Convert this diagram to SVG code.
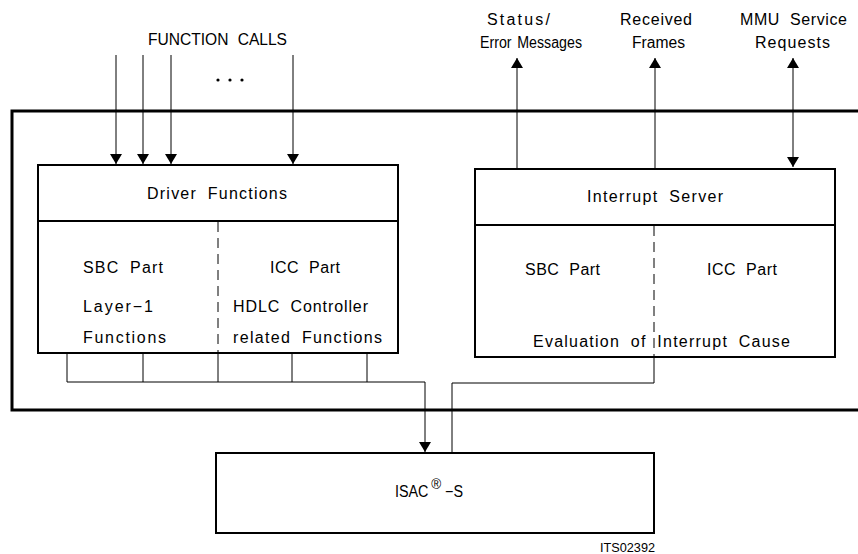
<svg xmlns="http://www.w3.org/2000/svg" width="858" height="554" viewBox="0 0 858 554">
<defs>
<marker id="ah" viewBox="0 0 10 12" refX="10" refY="6" markerWidth="10" markerHeight="12" markerUnits="userSpaceOnUse" orient="auto">
<path d="M0,0 L10,6 L0,12 Z" fill="#000"/>
</marker>
<marker id="ahs" viewBox="0 0 10 12" refX="10" refY="6" markerWidth="10" markerHeight="12" markerUnits="userSpaceOnUse" orient="auto-start-reverse">
<path d="M0,0 L10,6 L0,12 Z" fill="#000"/>
</marker>
</defs>
<style>
text{font-family:"Liberation Sans","DejaVu Sans",sans-serif;font-size:16px;fill:#000;word-spacing:5px}
.c{text-anchor:middle}
.box{fill:#fff;stroke:#000;stroke-width:2}
.sep{stroke:#000;stroke-width:2}
.ln{fill:none;stroke:#000;stroke-width:1}
.dash{fill:none;stroke:#000;stroke-width:1;stroke-dasharray:10,6}
.arr{fill:none;stroke:#000;stroke-width:1;marker-end:url(#ah)}
.frame{fill:none;stroke:#000;stroke-width:3}
</style>
<rect width="858" height="554" fill="#fff"/>

<g id="frame">
<path class="frame" d="M858,111 L12,111 L12,410 L858,410"/>
</g>

<g id="labels-top">
<text x="148" y="45" textLength="139" lengthAdjust="spacingAndGlyphs">FUNCTION CALLS</text>
<circle cx="218" cy="80" r="1.6"/>
<circle cx="230" cy="80" r="1.6"/>
<circle cx="242" cy="80" r="1.6"/>
<text x="487" y="25" textLength="63" lengthAdjust="spacing">Status/</text>
<text x="480" y="48" textLength="102" lengthAdjust="spacingAndGlyphs" style="word-spacing:2px">Error Messages</text>
<text x="620" y="25" textLength="72" lengthAdjust="spacing">Received</text>
<text x="632" y="48" textLength="53" lengthAdjust="spacingAndGlyphs">Frames</text>
<text x="740" y="25" textLength="107" lengthAdjust="spacing">MMU Service</text>
<text x="755" y="48" textLength="75" lengthAdjust="spacing">Requests</text>
</g>

<g id="driver">
<rect class="box" x="38" y="165" width="360" height="188"/>
<line class="sep" x1="38" y1="221" x2="398" y2="221"/>
<line class="dash" x1="218" y1="222" x2="218" y2="353"/>
<text x="147" y="199" textLength="140" lengthAdjust="spacing">Driver Functions</text>
<text x="83" y="273" textLength="80" lengthAdjust="spacing">SBC Part</text>
<text x="270" y="273" textLength="70" lengthAdjust="spacing">ICC Part</text>
<text x="83" y="312" textLength="70" lengthAdjust="spacing">Layer−1</text>
<text x="83" y="343" textLength="83" lengthAdjust="spacing">Functions</text>
<text x="233" y="312" textLength="135" lengthAdjust="spacing">HDLC Controller</text>
<text x="233" y="343" textLength="149" lengthAdjust="spacing">related Functions</text>
</g>

<g id="interrupt">
<rect class="box" x="475" y="169" width="360" height="188"/>
<line class="sep" x1="475" y1="225" x2="835" y2="225"/>
<line class="dash" x1="654" y1="226" x2="654" y2="357"/>
<text x="587" y="202" textLength="136" lengthAdjust="spacing">Interrupt Server</text>
<text x="525" y="275" textLength="75" lengthAdjust="spacing">SBC Part</text>
<text x="707" y="275" textLength="70" lengthAdjust="spacing">ICC Part</text>
<text x="533" y="347" textLength="257" lengthAdjust="spacing">Evaluation of Interrupt Cause</text>
</g>

<g id="isac">
<rect class="box" x="216" y="453" width="438" height="80"/>
<text x="395" y="497" textLength="68" lengthAdjust="spacingAndGlyphs" style="word-spacing:0">ISAC<tspan dx="3" dy="-8" style="font-size:15px">®</tspan><tspan dy="8"> −S</tspan></text>
</g>

<text x="600" y="552" textLength="55" lengthAdjust="spacingAndGlyphs" style="font-size:12px;word-spacing:0">ITS02392</text>

<g id="connectors">
<line class="arr" x1="116" y1="55" x2="116" y2="164"/>
<line class="arr" x1="143" y1="55" x2="143" y2="164"/>
<line class="arr" x1="171" y1="55" x2="171" y2="164"/>
<line class="arr" x1="293" y1="55" x2="293" y2="164"/>
<line class="arr" x1="517" y1="168" x2="517" y2="58"/>
<line class="arr" x1="655" y1="168" x2="655" y2="58"/>
<line class="arr" x1="793" y1="167" x2="793" y2="58" style="marker-start:url(#ahs)"/>
<path class="ln" d="M67,353 V382 M143,353 V382 M218,353 V382 M292,353 V382 M367,353 V382 M67,382 H425"/>
<line class="arr" x1="425" y1="382" x2="425" y2="452"/>
<path class="ln" d="M654,357 V383 H452 V453"/>
</g>
</svg>
